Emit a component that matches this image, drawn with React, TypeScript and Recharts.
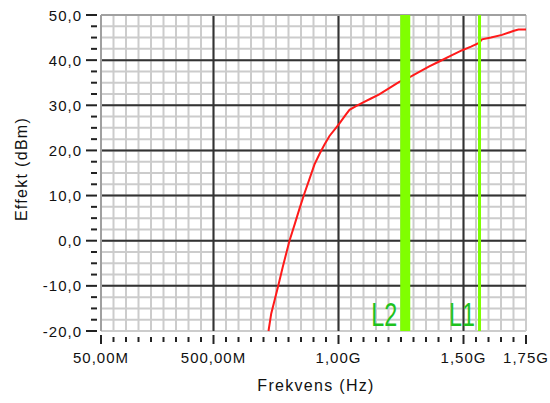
import React from 'react';
import { LineChart, Line, XAxis, YAxis, CartesianGrid, ReferenceLine } from 'recharts';

const freqMHz = [720, 731, 758, 777, 804, 824, 844, 864, 884, 904, 924, 944, 964, 990, 1004, 1030, 1044, 1070, 1097, 1130, 1163, 1203, 1243, 1287, 1323, 1363, 1403, 1450, 1495, 1530, 1562, 1574, 1610, 1654, 1702, 1720, 1750];
const powerDbm = [-20, -16.1, -10.2, -5.8, 0, 3.5, 7.1, 10.5, 13.7, 16.9, 19.2, 21.3, 23.2, 25, 26, 28, 29, 29.8, 30.6, 31.5, 32.4, 33.8, 35.2, 36.3, 37.4, 38.6, 39.7, 41, 42.2, 43, 43.8, 44.6, 45, 45.6, 46.5, 46.8, 46.8];

const xMajorTicks = [50, 500, 1000, 1500, 1750];
const xTickLabels = ['50,00M', '500,00M', '1,00G', '1,50G', '1,75G'];
const xBlackLines = [500, 1000, 1500];
const yBlackLines = [-10, 0, 10, 20, 30, 40];
const markerNames = ['L2', 'L1'];
const markerFreqs = [1267, 1564];
const markerWidths = [10, 3];

const xTicks: number[] = [];
for (let v = 50; v <= 1750; v += 50) xTicks.push(v);
const yTicks: number[] = [];
for (let v = -20; v <= 50; v += 2.5) yTicks.push(v);

const data = freqMHz.map((f, i) => ({ f, p: powerDbm[i] }));

const FONT = '"Liberation Sans", Arial, sans-serif';

const XTick = (props: any) => {
  const { x, y, payload } = props;
  const v = payload.value;
  const idx = xMajorTicks.indexOf(v);
  const major = idx >= 0;
  return (
    <g>
      <line x1={x} x2={x} y1={y + (major ? 4 : 6)} y2={y + (major ? 13 : 11)} stroke="#222" strokeWidth={2} />
      {major && (
        <text x={x} y={y + 32} textAnchor="middle" fontFamily={FONT} fontSize={15} letterSpacing={1} fill="#111">
          {xTickLabels[idx]}
        </text>
      )}
    </g>
  );
};

const YTick = (props: any) => {
  const { x, y, payload } = props;
  const v = payload.value;
  const major = Math.abs(v % 10) < 1e-6;
  return (
    <g>
      <line x1={x - (major ? 15 : 10)} x2={x - 4} y1={y} y2={y} stroke="#222" strokeWidth={2} />
      {major && (
        <text x={x - 19} y={y + 5.5} textAnchor="end" fontFamily={FONT} fontSize={15} letterSpacing={1} fill="#111">
          {v.toFixed(1).replace('.', ',')}
        </text>
      )}
    </g>
  );
};

const MarkerLabel = (name: string, w: number) => (props: any) => {
  const vb = props.viewBox || {};
  const x = vb.x;
  const bottom = vb.y + vb.height;
  return (
    <text x={x - w / 2 - 3} y={bottom - 5} textAnchor="end" fontFamily={FONT} fontSize={33} fill="#1ec21e" textLength={26} lengthAdjust="spacingAndGlyphs">
      {name}
    </text>
  );
};

export default function App() {
  return (
    <div style={{ position: 'absolute', left: 0, top: 0, width: 550, height: 403, background: '#fff' }}>
      <LineChart width={550} height={403} data={data} margin={{ top: 15, right: 24, bottom: 0, left: 0 }}>
        <CartesianGrid stroke="#cccccc" strokeWidth={2} />
        <XAxis
          dataKey="f"
          type="number"
          domain={[50, 1750]}
          ticks={xTicks}
          interval={0}
          height={72}
          tickSize={0}
          tickMargin={0}
          axisLine={false}
          tickLine={false}
          tick={XTick}
        />
        <YAxis
          type="number"
          domain={[-20, 50]}
          ticks={yTicks}
          interval={0}
          width={101}
          tickSize={0}
          tickMargin={0}
          axisLine={false}
          tickLine={false}
          tick={YTick}
        />
        {xBlackLines.map((v) => (
          <ReferenceLine key={'xb' + v} x={v} stroke="#333" strokeWidth={2} />
        ))}
        {yBlackLines.map((v) => (
          <ReferenceLine key={'yb' + v} y={v} stroke="#333" strokeWidth={2} />
        ))}
        <ReferenceLine y={50} stroke="#a0a0a0" strokeWidth={2} />
        <ReferenceLine x={50} stroke="#a0a0a0" strokeWidth={2} />
        <Line dataKey="p" type="linear" stroke="#ff1a1a" strokeWidth={2} dot={false} isAnimationActive={false} />
        {markerFreqs.map((f, i) => (
          <ReferenceLine key={'m' + i} x={f} stroke="#80ff00" strokeWidth={markerWidths[i]} label={MarkerLabel(markerNames[i], markerWidths[i])} />
        ))}
        <text x={316} y={391} textAnchor="middle" fontFamily={FONT} fontSize={16} letterSpacing={1.3} fill="#111">
          Frekvens (Hz)
        </text>
        <text x={27} y={169} transform="rotate(-90 27 169)" textAnchor="middle" fontFamily={FONT} fontSize={16} letterSpacing={1.3} fill="#111">
          Effekt (dBm)
        </text>
      </LineChart>
    </div>
  );
}
